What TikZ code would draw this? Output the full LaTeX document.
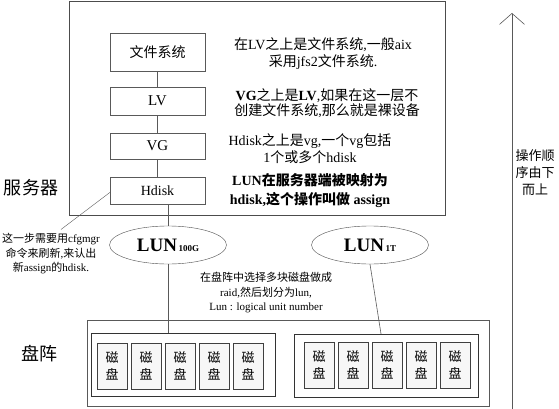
\documentclass[tikz,border=0pt]{standalone}
\usepackage{fontspec}
\setmainfont{Liberation Serif}
\newfontfamily\cjk{Noto Sans CJK SC}
\usetikzlibrary{shapes.geometric,arrows.meta,positioning}
\tikzset{
  layer/.style={draw=black!65, minimum width=95pt, inner sep=0pt},
  disk/.style={draw=black!75, fill=gray!6, minimum width=30pt, minimum height=46pt, inner sep=0pt,
    align=center, font=\cjk\fontsize{13}{17}\selectfont},
  diskgrp/.style={draw=black!80, minimum width=184pt, minimum height=63pt, inner sep=0pt},
  lunell/.style={ellipse, draw=black!70, minimum width=117pt, minimum height=38pt, inner sep=0pt},
  note/.style={align=center, inner sep=0pt},
  link/.style={draw=black!65, line width=0.6pt},
}
\newcommand{\lunlab}[1]{{\fontsize{19}{19}\selectfont\bfseries LUN}\,{\fontsize{9}{9}\selectfont\bfseries #1}}
\begin{document}
\begin{tikzpicture}[x=1pt, y=-1pt]
  \useasboundingbox (0,0) rectangle (559,409);
  % server side
  \node[draw=black!70, line width=0.7pt, minimum width=376pt, minimum height=214pt, inner sep=0pt] (server) at (257,108) {};
  \node[layer, minimum height=38pt, font=\cjk\fontsize{14}{17}\selectfont] (fs) at (157.5,52) {文件系统};
  \node[layer, minimum height=28pt, font=\fontsize{15}{17}\selectfont] (lv) at (157.5,101) {LV};
  \node[layer, minimum height=26pt, font=\fontsize{15}{17}\selectfont] (vg) at (157.5,146) {VG};
  \node[layer, minimum height=27pt, font=\fontsize{14}{17}\selectfont] (hdisk) at (157.5,190.5) {Hdisk};
  \draw[link] (fs) -- (lv);
  \draw[link] (lv) -- (vg);
  \draw[link] (vg) -- (hdisk);

  \node[note, font=\fontsize{14}{17}\selectfont] (fsnote) at (323,54)
    {{\cjk 在}LV{\cjk 之上是文件系统},{\cjk 一般}aix\\{\cjk 采用}jfs2{\cjk 文件系统}.};
  \node[note, font=\fontsize{14}{15}\selectfont] (lvnote) at (327,103)
    {\textbf{VG}{\cjk 之上是}\textbf{LV},{\cjk 如果在这一层不}\\{\cjk 创建文件系统},{\cjk 那么就是裸设备}};
  \node[note, font=\fontsize{14}{17}\selectfont] (vgnote) at (310,148.5)
    {Hdisk{\cjk 之上是}vg,{\cjk 一个}vg{\cjk 包括}\\1{\cjk 个或多个}hdisk};
  \node[note, font=\fontsize{14}{19}\selectfont\bfseries] (hdnote) at (310,191)
    {LUN{\cjk 在服务器端被映射为}\\hdisk,{\cjk 这个操作叫做} assign};
  \node[font=\cjk\fontsize{18}{18}\selectfont] (srvlab) at (31,188) {服务器};

  % LUNs
  \node[lunell] (lun100) at (168,245) {\lunlab{100G}};
  \node[lunell] (lun1t) at (370,245) {\lunlab{1T}};
  \draw[link] (hdisk.south -| lun100.north) -- (lun100.north);

  \node[note, font=\fontsize{11}{14.5}\selectfont] (cfgnote) at (51,254)
    {{\cjk 这一步需要用}cfgmgr\\{\cjk 命令来刷新},{\cjk 来认出}\\{\cjk 新}assign{\cjk 的}hdisk.};
  \draw[link, line width=0.4pt] ([yshift=-2pt]hdisk.west) -- ([xshift=10pt,yshift=4pt]cfgnote.north);

  \node[note, font=\fontsize{11}{14.5}\selectfont] (raidnote) at (266,293)
    {{\cjk 在盘阵中选择多块磁盘做成}\\raid,{\cjk 然后划分为}lun,\\Lun : logical unit number};

  % disk array
  \node[draw=black!65, minimum width=402pt, minimum height=86pt, inner sep=0pt] (array) at (288,363) {};
  \node[diskgrp] (grpL) at (183,365) {};
  \node[diskgrp] (grpR) at (386,365.5) {};
  \foreach \i in {0,...,4} {
    \node[disk] (dl\i) at ({112+34*\i},366) {磁\\盘};
    \node[disk] (dr\i) at ({319+34*\i},365) {磁\\盘};
  }
  \draw[link] (lun100.south) -- (lun100.south |- grpL.north);
  \draw[link] (lun1t.south) -- ([xshift=-5pt]grpR.north);
  \node[font=\cjk\fontsize{18}{18}\selectfont] (arrlab) at (39,354) {盘阵};

  % order arrow
  \coordinate (opbot) at (512,409);
  \coordinate (optop) at (512,13);
  \draw[link, -{Straight Barb[length=11pt, width=25pt]}] (opbot) -- (optop);
  \node[note, font=\cjk\fontsize{13}{17}\selectfont] (oplab) at (535,173) {操作顺\\序由下\\而上};
\end{tikzpicture}
\end{document}
